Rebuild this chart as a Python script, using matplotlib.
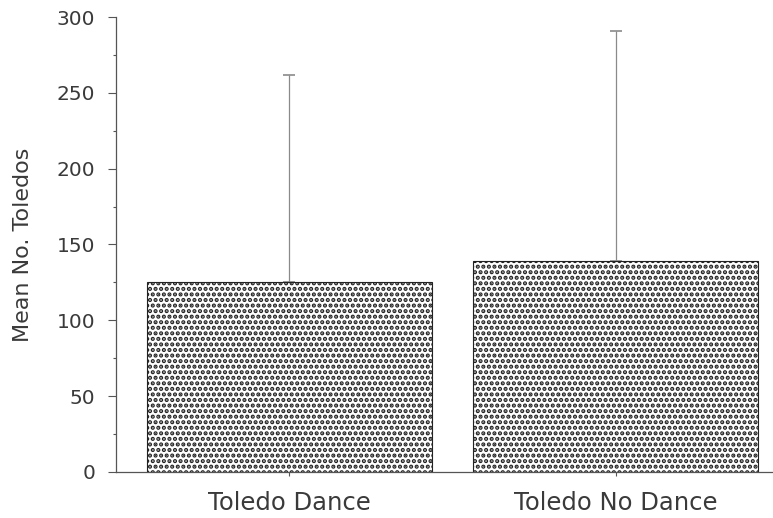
import matplotlib.pyplot as plt
from matplotlib.ticker import MultipleLocator

# Medias y desviaciones por grupo
grupos = ['Toledo Dance', 'Toledo No Dance']
medias = [125, 139]
desv = [137, 152]

plt.rcParams['hatch.linewidth'] = 2.1
plt.rcParams['hatch.color'] = '#111111'

fig = plt.figure(figsize=(7.73, 5.18), dpi=100)
ax = fig.add_axes([0.150, 0.089, 0.850, 0.878])

x = range(len(grupos))
ax.bar(x, medias, width=0.873, color='white', edgecolor='#222222',
       linewidth=0.8, hatch='...', zorder=2)
ax.errorbar(x, medias, yerr=[[0, 0], desv], fmt='none', ecolor='#8a8a8a',
            elinewidth=0.9, capsize=4, capthick=1.2, zorder=1)

ax.set_xlim(-0.531, 1.481)
ax.set_ylim(0, 300)
ax.set_xticks(list(x))
ax.set_xticklabels(grupos)
ax.yaxis.set_major_locator(MultipleLocator(50))
ax.yaxis.set_minor_locator(MultipleLocator(25))

ax.spines['top'].set_visible(False)
ax.spines['right'].set_visible(False)
for s in ['left', 'bottom']:
    ax.spines[s].set_color('#555555')
    ax.spines[s].set_linewidth(0.9)

ax.tick_params(axis='y', which='major', length=6, width=0.8, color='#555555',
               labelsize=14.5, labelcolor='#3a3a3a', pad=9)
ax.tick_params(axis='y', which='minor', length=2.5, width=0.8, color='#555555')
ax.tick_params(axis='x', length=3, width=0.8, color='#555555',
               labelsize=17.5, labelcolor='#3a3a3a', pad=11)

ax.set_ylabel('Mean No. Toledos', fontsize=16, color='#3a3a3a')
ax.yaxis.set_label_coords(-0.126, 0.5)

fig.savefig('out.png', dpi=100)
